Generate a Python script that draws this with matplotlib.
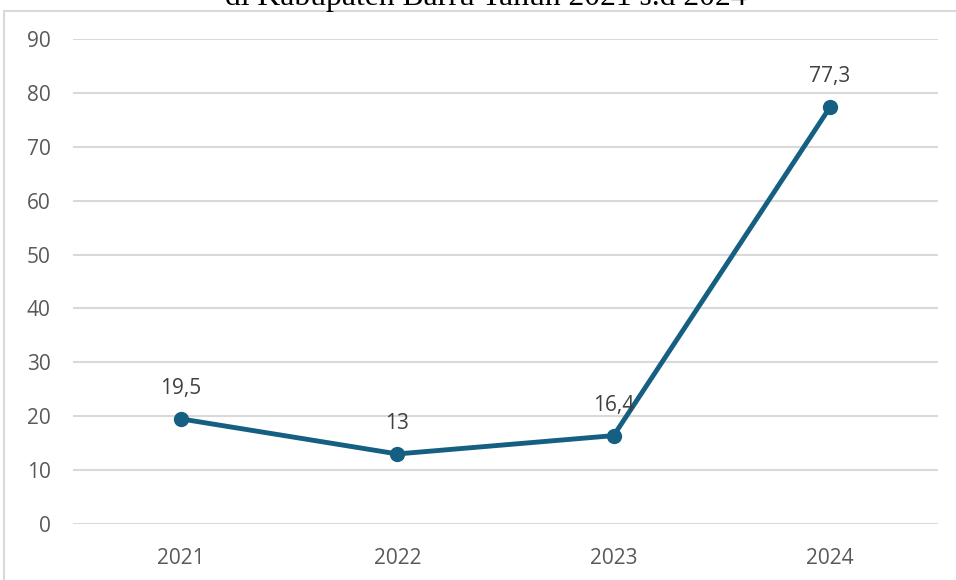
import matplotlib
matplotlib.use("Agg")
import matplotlib.pyplot as plt
from matplotlib.patches import Rectangle

years = ["2021", "2022", "2023", "2024"]
values = [19.5, 13, 16.4, 77.3]
value_labels = ["19,5", "13", "16,4", "77,3"]
y_ticks = [0, 10, 20, 30, 40, 50, 60, 70, 80, 90]
title = "di Kabupaten Barru Tahun 2021 s.d 2024"

line_color = "#156082"
grid_color = "#d9d9d9"
text_color = "#595959"
font = ["Open Sans", "DejaVu Sans"]

W, H = 956, 580
fig = plt.figure(figsize=(W / 100, H / 100), dpi=100)
fig.patch.set_facecolor("white")

# chart frame (open on the right and bottom)
fig.add_artist(Rectangle((4 / W, -0.05), 1.1, 1.05 - 11 / H, transform=fig.transFigure,
                         fill=False, edgecolor=grid_color, linewidth=1.5))

# title, partly outside the figure
fig.text(486 / W, 1 - 5.5 / H, title, ha="center", va="baseline",
         family="Liberation Serif", fontsize=22.8, color="black")

ax = fig.add_axes([73 / W, 1 - 524 / H, (938 - 73) / W, (524 - 39) / H])
x = list(range(len(years)))
ax.plot(x, values, color=line_color, linewidth=3.5, marker="o", markersize=10,
        solid_capstyle="round", zorder=3)

for xi, v, lab in zip(x, values, value_labels):
    ax.annotate(lab, (xi, v), xytext=(0, 22), textcoords="offset points",
                ha="center", va="center", fontsize=15, color="#404040",
                family=font)

ax.set_xlim(-0.5, len(years) - 0.5)
ax.set_ylim(0, 90)
ax.set_yticks(y_ticks)
ax.set_xticks(x)
ax.set_xticklabels(years)
ax.yaxis.grid(True, color=grid_color, linewidth=1.5)
ax.set_axisbelow(True)
for s in ax.spines.values():
    s.set_visible(False)
ax.tick_params(length=0, labelsize=15, labelcolor=text_color)
ax.tick_params(axis="y", pad=16)
ax.tick_params(axis="x", pad=17)
for lab in ax.get_xticklabels() + ax.get_yticklabels():
    lab.set_family(font)

fig.savefig("out.png", dpi=100)
